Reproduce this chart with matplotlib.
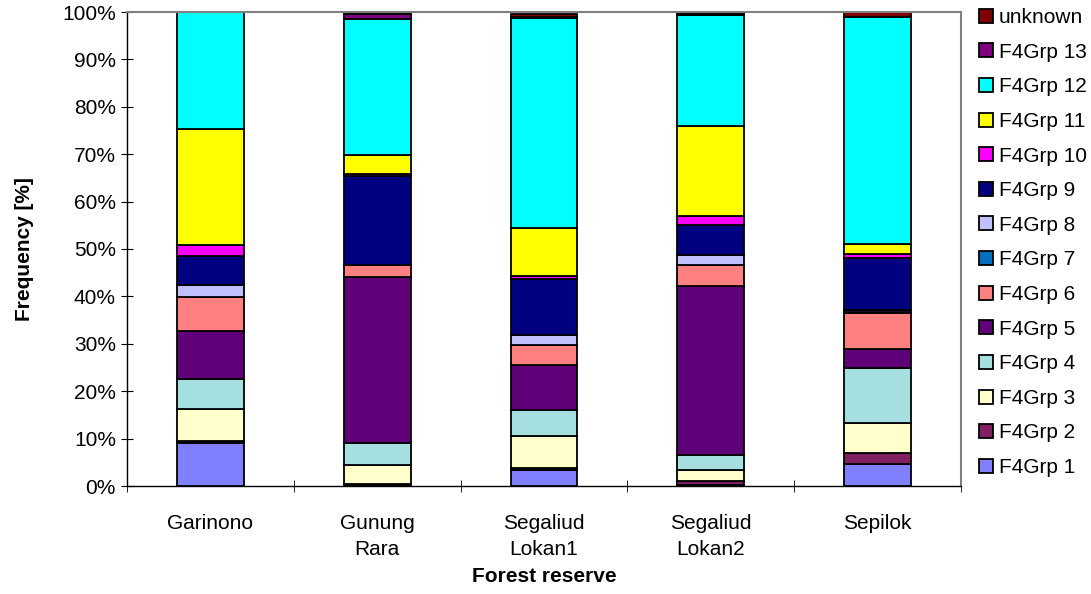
import numpy as np
import matplotlib.pyplot as plt
from matplotlib.ticker import PercentFormatter
from matplotlib.patches import Patch

# Datos (porcentaje por reserva)
reservas = ["Garinono", "Gunung\nRara", "Segaliud\nLokan1", "Segaliud\nLokan2", "Sepilok"]
grupos = ["F4Grp 1", "F4Grp 2", "F4Grp 3", "F4Grp 4", "F4Grp 5", "F4Grp 6", "F4Grp 7",
          "F4Grp 8", "F4Grp 9", "F4Grp 10", "F4Grp 11", "F4Grp 12", "F4Grp 13", "unknown"]

grp1 = [9.0, 0.0, 3.3, 0.3, 4.6]
grp2 = [0.5, 0.5, 0.4, 0.8, 2.4]
grp3 = [6.8, 4.0, 6.8, 2.2, 6.2]
grp4 = [6.3, 4.6, 5.6, 3.2, 11.6]
grp5 = [10.1, 34.9, 9.4, 35.6, 4.0]
grp6 = [7.2, 2.6, 4.2, 4.5, 7.6]
grp7 = [0.0, 0.0, 0.0, 0.0, 0.3]
grp8 = [2.4, 0.0, 2.1, 2.1, 0.4]
grp9 = [6.2, 18.9, 11.8, 6.3, 11.0]
grp10 = [2.3, 0.3, 0.6, 1.9, 0.9]
grp11 = [24.6, 4.0, 10.3, 19.0, 2.1]
grp12 = [24.5, 28.8, 44.2, 23.5, 47.8]
grp13 = [0.1, 0.9, 0.2, 0.3, 0.0]
unknown = [0.0, 0.2, 0.7, 0.3, 1.1]

series = [grp1, grp2, grp3, grp4, grp5, grp6, grp7, grp8, grp9, grp10, grp11, grp12, grp13, unknown]
colores = ["#8080FF", "#802060", "#FFFFCC", "#A6DFE0", "#600078", "#FF8080", "#0070C0",
           "#C0C0FF", "#000080", "#FF00FF", "#FFFF00", "#00FFFF", "#800080", "#800000"]

plt.rcParams['font.family'] = ['Liberation Sans', 'DejaVu Sans']
fs = 15

fig = plt.figure(figsize=(10.91, 5.94), dpi=100)
ax = fig.add_axes([127 / 1091, 1 - 486 / 594, (961 - 127) / 1091, (486 - 12) / 594])

x = np.arange(len(reservas))
base = np.zeros(len(reservas))
for vals, col in zip(series, colores):
    vals = np.array(vals)
    ax.bar(x, vals, bottom=base, width=0.4, color=col, edgecolor="black", linewidth=1.3)
    base += vals

ax.set_xlim(-0.5, len(reservas) - 0.5)
ax.set_ylim(0, 100)
ax.set_yticks(np.arange(0, 101, 10))
ax.yaxis.set_major_formatter(PercentFormatter(decimals=0))
ax.set_xticks(x)
ax.set_xticklabels(reservas, fontsize=fs, linespacing=1.48)
ax.set_xticks(np.arange(-0.5, len(reservas), 1), minor=True)
ax.tick_params(axis="x", which="major", length=0, pad=20)
ax.tick_params(axis="x", which="minor", length=8, direction="inout", color="black")
ax.tick_params(axis="y", labelsize=fs, length=8, direction="inout", color="black", pad=4)
for lado in ["top", "right"]:
    ax.spines[lado].set_color("#808080")
    ax.spines[lado].set_linewidth(1.5)
for lado in ["left", "bottom"]:
    ax.spines[lado].set_color("black")
    ax.spines[lado].set_linewidth(1.0)

ax.set_xlabel("Forest reserve", fontsize=fs, fontweight="bold", labelpad=6)
ax.set_ylabel("Frequency [%]", fontsize=fs, fontweight="bold", labelpad=20)

handles = [Patch(facecolor=c, edgecolor="black", linewidth=1.3) for c in colores]
leg = fig.legend(handles[::-1], grupos[::-1], loc="upper left", bbox_to_anchor=(979 / 1091, 1 - 8 / 594),
                 frameon=False, fontsize=fs, handlelength=0.65, handleheight=0.65,
                 handletextpad=0.3, labelspacing=0.75, borderaxespad=0, borderpad=0)

plt.savefig("out.png", dpi=100)
